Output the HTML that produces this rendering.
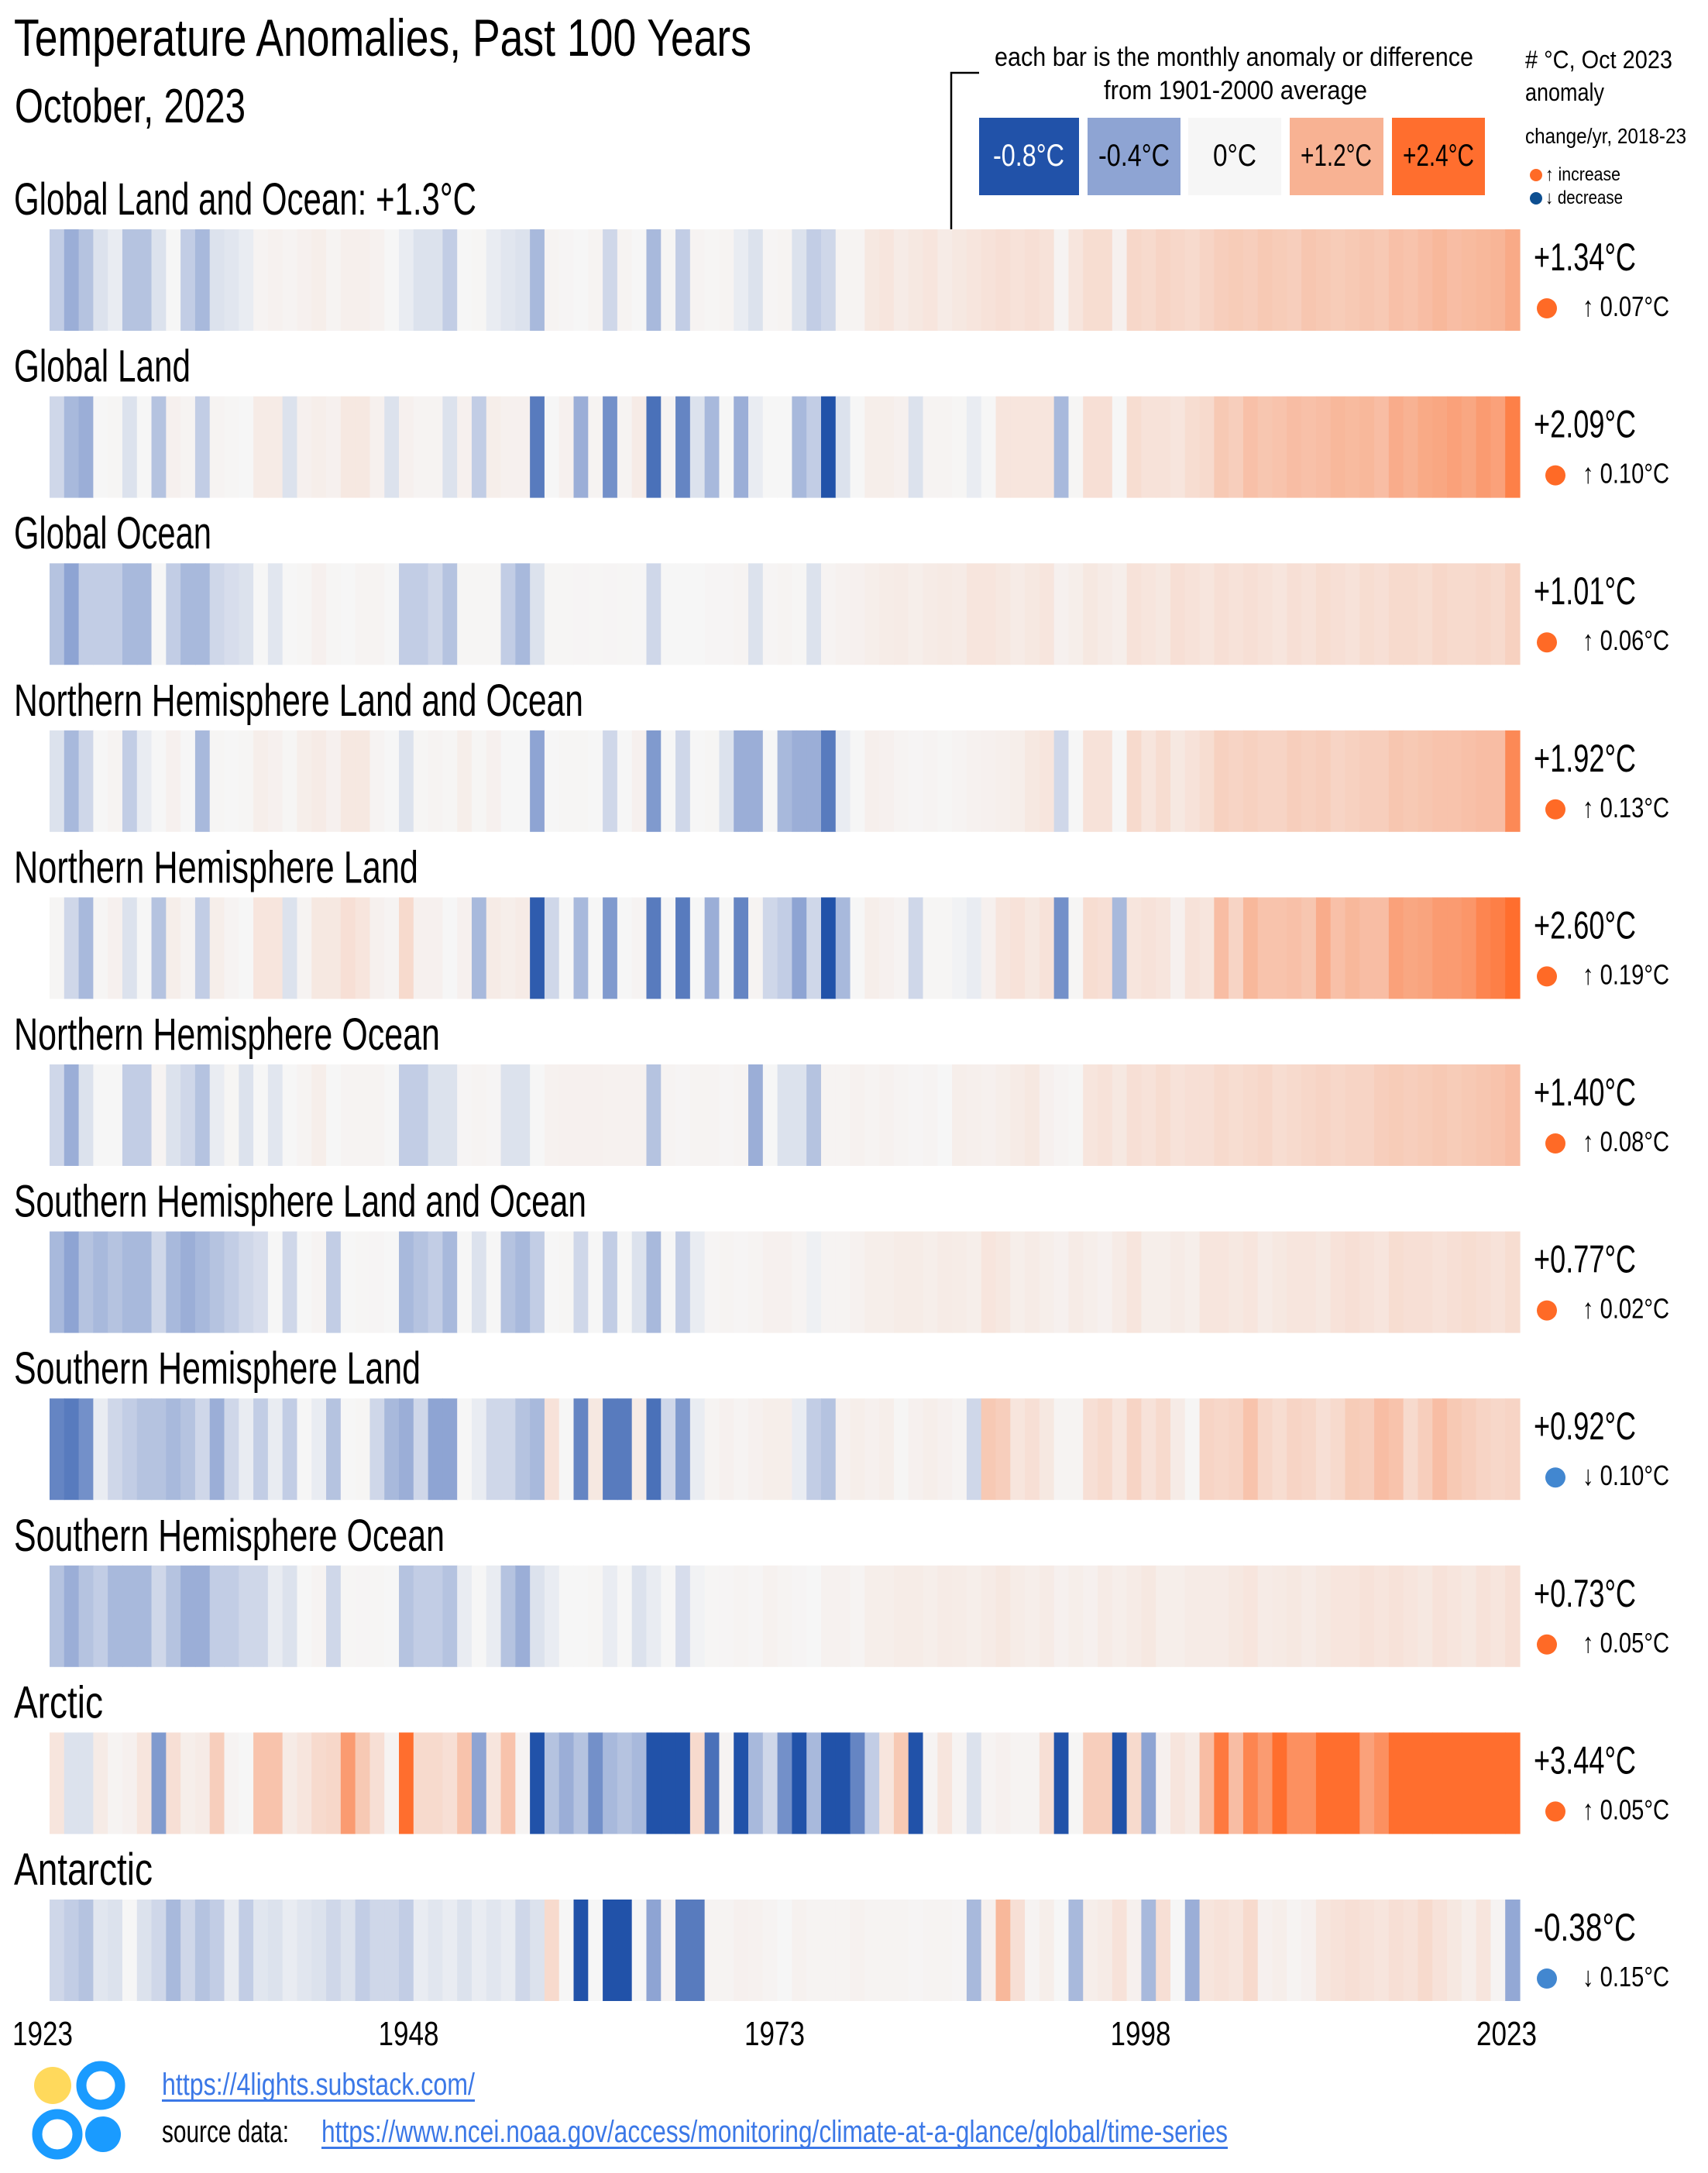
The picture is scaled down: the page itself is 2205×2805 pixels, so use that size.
<!DOCTYPE html>
<html><head><meta charset="utf-8"><title>Temperature Anomalies</title>
<style>
html,body{margin:0;padding:0;background:#fff;}
svg{display:block;}
text{font-family:"Liberation Sans Narrow","Liberation Sans",sans-serif;fill:#000;}
</style></head>
<body>
<svg id="chart" width="2205" height="2805" viewBox="0 0 2205 2805" xmlns="http://www.w3.org/2000/svg">
<text x="18" y="72" font-size="68" textLength="952" lengthAdjust="spacingAndGlyphs">Temperature Anomalies, Past 100 Years</text>
<text x="19" y="158" font-size="62" textLength="298" lengthAdjust="spacingAndGlyphs">October, 2023</text>

<g>
<text x="1284" y="85" font-size="34" textLength="618" lengthAdjust="spacingAndGlyphs">each bar is the monthly anomaly or difference</text>
<text x="1425" y="128" font-size="34" textLength="340" lengthAdjust="spacingAndGlyphs">from 1901-2000 average</text>
<path d="M1264 94 H1228 V296" fill="none" stroke="#000" stroke-width="2.5"/>
<rect x="1264" y="152" width="129" height="100" fill="#2152a9"/>
<rect x="1404" y="152" width="120" height="100" fill="#8ea4d3"/>
<rect x="1534" y="152" width="120" height="100" fill="#f6f6f6"/>
<rect x="1665" y="152" width="121" height="100" fill="#f8b293"/>
<rect x="1797" y="152" width="120" height="100" fill="#ff6e2e"/>
<text x="1328" y="214" font-size="40" text-anchor="middle" style="fill:#fff" textLength="92" lengthAdjust="spacingAndGlyphs">-0.8°C</text>
<text x="1464" y="214" font-size="40" text-anchor="middle" textLength="92" lengthAdjust="spacingAndGlyphs">-0.4°C</text>
<text x="1594" y="214" font-size="40" text-anchor="middle" textLength="56" lengthAdjust="spacingAndGlyphs">0°C</text>
<text x="1725" y="214" font-size="40" text-anchor="middle" textLength="92" lengthAdjust="spacingAndGlyphs">+1.2°C</text>
<text x="1857" y="214" font-size="40" text-anchor="middle" textLength="92" lengthAdjust="spacingAndGlyphs">+2.4°C</text>
</g>

<g>
<text x="1969" y="88" font-size="32" textLength="190" lengthAdjust="spacingAndGlyphs"># °C, Oct 2023</text>
<text x="1969" y="130" font-size="32" textLength="102" lengthAdjust="spacingAndGlyphs">anomaly</text>
<text x="1969" y="185" font-size="28" textLength="208" lengthAdjust="spacingAndGlyphs">change/yr, 2018-23</text>
<circle cx="1983" cy="226" r="8" fill="#ff6a26"/>
<text x="1995" y="233" font-size="24" textLength="97" lengthAdjust="spacingAndGlyphs">↑ increase</text>
<circle cx="1983" cy="256" r="8" fill="#0d4f91"/>
<text x="1995" y="263" font-size="24" textLength="100" lengthAdjust="spacingAndGlyphs">↓ decrease</text>
</g>

<g id="rows"></g>

<g id="xaxis"></g>

<g>
<circle cx="68" cy="2692" r="24" fill="#ffd95c"/>
<circle cx="130" cy="2692" r="25" fill="none" stroke="#1a9bff" stroke-width="13"/>
<circle cx="74" cy="2755" r="26" fill="none" stroke="#1a9bff" stroke-width="13"/>
<circle cx="133" cy="2755" r="23" fill="#1a9bff"/>
<text x="209" y="2704" font-size="40" style="fill:#3b78e7" textLength="404" lengthAdjust="spacingAndGlyphs">https://4lights.substack.com/</text>
<rect x="209" y="2710" width="404" height="3" fill="#3b78e7"/>
<text x="209" y="2765" font-size="40" textLength="164" lengthAdjust="spacingAndGlyphs">source data:</text>
<text x="415" y="2765" font-size="40" style="fill:#3b78e7" textLength="1170" lengthAdjust="spacingAndGlyphs">https://www.ncei.noaa.gov/access/monitoring/climate-at-a-glance/global/time-series</text>
<rect x="415" y="2771" width="1170" height="3" fill="#3b78e7"/>
</g>
</svg>

<script>
const firstYear = 1923;
const lastYear = 2023;
const yearTicks = [1923, 1948, 1973, 1998, 2023];
const rowTitles = ["Global Land and Ocean: +1.3°C","Global Land","Global Ocean","Northern Hemisphere Land and Ocean","Northern Hemisphere Land","Northern Hemisphere Ocean","Southern Hemisphere Land and Ocean","Southern Hemisphere Land","Southern Hemisphere Ocean","Arctic","Antarctic"];
const anomalyLabels = ["+1.34°C","+2.09°C","+1.01°C","+1.92°C","+2.60°C","+1.40°C","+0.77°C","+0.92°C","+0.73°C","+3.44°C","-0.38°C"];
const changeLabels = ["↑ 0.07°C","↑ 0.10°C","↑ 0.06°C","↑ 0.13°C","↑ 0.19°C","↑ 0.08°C","↑ 0.02°C","↓ 0.10°C","↑ 0.05°C","↑ 0.05°C","↓ 0.15°C"];
const changeDirections = [1,1,1,1,1,1,1,-1,1,1,-1];

const seriesGlobalLandOcean = [-0.2,-0.35,-0.25,-0.1,-0.05,-0.25,-0.25,-0.1,0,-0.2, -0.3,-0.1,-0.08,-0.05,0.05,0.08,0.05,0.1,0.15,0.05, 0.12,0.12,0.08,0,-0.05,-0.1,-0.1,-0.2,0,0.02, -0.05,-0.08,-0.1,-0.3,0.05,0.03,0,0.05,-0.15,0.05, 0,-0.3,0.02,-0.2,0.05,0.02,0.05,-0.05,-0.1,0.03, 0.05,-0.1,-0.2,-0.15,0.05,0.05,0.25,0.3,0.2,0.25, 0.3,0.2,0.25,0.3,0.35,0.4,0.35,0.4,0.35,0.05, 0.3,0.45,0.45,0.1,0.55,0.5,0.6,0.55,0.5,0.6, 0.7,0.75,0.7,0.8,0.75,0.7,0.85,0.8,0.75,0.8, 0.85,0.8,0.95,0.9,1.0,1.1,1.0,1.05,1.1,1.15, 1.34];
const seriesGlobalLand = [-0.15,-0.3,-0.35,0,0.02,-0.1,0,-0.25,0.1,0.05, -0.2,0.05,0.02,0,0.2,0.2,-0.1,0.1,0.15,0.1, 0.25,0.25,0.1,-0.1,0.1,0.05,0.05,-0.1,0.1,-0.2, 0.15,0.1,0.1,-0.6,0,0.1,-0.35,0.05,-0.5,0.05, 0.2,-0.65,0.05,-0.55,-0.1,-0.3,0,-0.35,-0.05,0, 0,-0.3,-0.2,-0.85,-0.1,0,0.15,0.15,0.1,-0.1, 0.05,0.05,0.02,-0.05,0,0.3,0.3,0.3,0.3,-0.3, 0.02,0.4,0.4,0,0.45,0.35,0.35,0.3,0.45,0.5, 0.8,0.7,0.95,0.85,0.9,1.0,0.95,1.0,1.1,1.05, 1.1,1.0,1.3,1.2,1.35,1.4,1.5,1.4,1.6,1.5, 2.09];
const seriesGlobalOcean = [-0.25,-0.4,-0.2,-0.2,-0.2,-0.3,-0.3,0,-0.2,-0.3, -0.3,-0.15,-0.12,-0.1,0,-0.08,0,0.02,0.1,0.02, 0,0.05,0.05,0,-0.2,-0.2,-0.15,-0.25,0.02,0.02, 0.02,-0.2,-0.3,-0.1,0.02,0.02,0.03,0.02,0.03,0.02, 0.01,-0.15,0,0,0,0.03,0.03,0.05,-0.1,0.03, 0.05,0.02,-0.1,0.05,0.08,0.1,0.15,0.18,0.2,0.15, 0.2,0.22,0.2,0.3,0.3,0.25,0.2,0.25,0.3,0.1, 0.15,0.25,0.2,0.15,0.35,0.3,0.25,0.4,0.35,0.3, 0.4,0.35,0.4,0.35,0.3,0.4,0.35,0.45,0.4,0.35, 0.45,0.4,0.5,0.5,0.45,0.55,0.5,0.5,0.55,0.5, 0.65];
const seriesNHLandOcean = [-0.1,-0.3,-0.15,0,0.05,-0.2,-0.05,0,0.1,0, -0.3,0.02,0,0.02,0.15,0.1,0.02,0.15,0.2,0.1, 0.25,0.25,0.05,0,-0.1,0.02,0.05,0.02,0.15,0.02, 0.1,0,0,-0.4,0,0.02,0.02,0,-0.15,0, 0.1,-0.45,0,-0.15,0,0.02,-0.1,-0.35,-0.35,0, -0.3,-0.35,-0.35,-0.6,-0.05,0,0.12,0.1,0.05,0.03, 0.05,0.02,0.05,0.08,0.1,0.12,0.15,0.25,0.3,-0.15, 0,0.35,0.35,0,0.5,0.3,0.45,0.25,0.35,0.45, 0.65,0.6,0.65,0.6,0.6,0.7,0.65,0.7,0.6,0.65, 0.7,0.7,0.85,0.8,0.85,0.9,0.9,0.95,1.0,1.0, 1.92];
const seriesNHLand = [0.02,-0.15,-0.3,0.02,0.1,-0.1,0,-0.25,0.15,0.05, -0.2,0.15,0.05,0,0.3,0.3,-0.1,0.05,0.25,0.25, 0.4,0.3,0.1,0.05,0.5,0.1,0.1,0,0.1,-0.3, 0.2,0.15,0.2,-0.75,-0.15,0,-0.3,0,-0.45,0, 0.05,-0.6,0,-0.6,0,-0.35,0,-0.55,0.05,-0.15, -0.2,-0.4,-0.15,-0.85,-0.3,0,0.15,0.1,0.05,-0.15, 0.02,0.02,-0.02,-0.05,0.1,0.3,0.35,0.25,0.35,-0.5, 0.02,0.45,0.4,-0.3,0.3,0.35,0.3,0.1,0.35,0.3, 1.0,0.6,1.1,0.9,0.9,0.95,0.85,1.3,0.95,1.1, 1.0,1.0,1.5,1.4,1.45,1.6,1.6,1.7,2.0,2.1, 2.6];
const seriesNHOcean = [-0.15,-0.35,-0.1,0,0,-0.2,-0.2,0.05,-0.1,-0.15, -0.25,-0.05,0.02,-0.1,0,-0.08,0,0.05,0.15,0, 0.05,0.05,0.05,0,-0.2,-0.2,-0.1,-0.1,0.03,0.05, 0.03,-0.1,-0.1,0,0.08,0.1,0.1,0.1,0.08,0.08, 0.08,-0.25,0.05,0.03,0.05,0.05,0.03,0.05,-0.35,0, -0.1,-0.1,-0.25,0.05,0.05,0.08,0.05,0.08,0.05,0.03, 0.05,0,0.15,0.12,0.1,0.15,0.2,0.25,0.1,0.05, 0.02,0.3,0.35,0.25,0.4,0.35,0.45,0.35,0.4,0.4, 0.5,0.45,0.5,0.55,0.45,0.5,0.55,0.6,0.55,0.6, 0.6,0.7,0.75,0.7,0.75,0.8,0.75,0.8,0.85,0.9, 1.0];
const seriesSHLandOcean = [-0.3,-0.4,-0.25,-0.3,-0.25,-0.3,-0.3,-0.15,-0.3,-0.35, -0.3,-0.25,-0.2,-0.15,-0.12,0,-0.15,0,0.05,-0.2, 0,0.02,0.03,0,-0.3,-0.25,-0.2,-0.3,0,-0.1, 0,-0.25,-0.3,-0.2,0,0.02,-0.15,0,-0.2,0, -0.1,-0.3,0,-0.2,-0.05,0.03,0.05,0.03,0.05,0.1, 0.1,0.05,-0.03,0.05,0.05,0.08,0.15,0.15,0.18,0.18, 0.15,0.2,0.18,0.15,0.3,0.25,0.15,0.2,0.15,0.1, 0.2,0.15,0.1,0.2,0.3,0.15,0.15,0.2,0.15,0.3, 0.3,0.25,0.3,0.2,0.25,0.3,0.3,0.25,0.35,0.4, 0.35,0.3,0.45,0.4,0.4,0.35,0.4,0.45,0.4,0.35, 0.45];
const seriesSHLand = [-0.55,-0.6,-0.5,-0.05,-0.15,-0.2,-0.25,-0.25,-0.3,-0.25, -0.15,-0.35,-0.15,-0.05,-0.2,-0.05,-0.2,0,-0.05,-0.25, 0,0.02,-0.15,-0.3,-0.35,-0.15,-0.4,-0.4,0,-0.05, -0.15,-0.15,-0.25,-0.3,0.35,0,-0.55,0.25,-0.6,-0.6, 0.2,-0.65,-0.15,-0.45,-0.05,0.05,0.1,0.05,0.1,0.15, 0.15,-0.05,-0.2,-0.25,0.1,0.15,0.1,0.15,0.02,0.1, 0.15,0.1,0.05,-0.15,0.8,0.7,0.3,0.4,0.25,0.05, 0.05,0.4,0.5,0.3,0.6,0.35,0.5,0.2,0.02,0.6, 0.55,0.6,0.9,0.55,0.45,0.6,0.55,0.4,0.5,0.75, 0.7,1.0,0.9,0.5,0.7,1.0,0.8,0.7,0.6,0.55, 0.6];
const seriesSHOcean = [-0.25,-0.35,-0.25,-0.2,-0.3,-0.3,-0.3,-0.15,-0.25,-0.35, -0.35,-0.2,-0.2,-0.15,-0.15,-0.05,-0.1,0,0.05,-0.15, 0.02,0.03,0.02,0,-0.25,-0.2,-0.2,-0.25,-0.05,0, -0.05,-0.25,-0.35,-0.1,-0.05,0,0,0.02,-0.05,0, -0.1,-0.05,0,-0.12,-0.02,0.02,0.03,0.05,0.03,0.08, 0.05,0.03,0,0.08,0.08,0.05,0.15,0.15,0.18,0.18, 0.15,0.2,0.18,0.15,0.2,0.25,0.18,0.15,0.2,0.1, 0.15,0.1,0.2,0.15,0.2,0.25,0.15,0.15,0.2,0.2, 0.2,0.25,0.3,0.2,0.22,0.25,0.2,0.25,0.3,0.3, 0.35,0.3,0.35,0.3,0.25,0.35,0.3,0.25,0.35,0.3, 0.4];
const seriesArctic = [0.3,-0.1,-0.1,0.2,0.05,0.1,0.3,-0.45,0.4,0.15, 0.2,0.7,0.05,0,0.9,0.9,0.2,0.3,0.5,0.55, 1.6,0.8,0.4,0.05,2.4,0.5,0.5,0.4,0.9,-0.4, 0.3,0.9,0.05,-0.85,-0.25,-0.35,-0.25,-0.5,-0.3,-0.25, -0.3,-0.85,-0.9,-0.85,0.5,-0.65,0.05,-0.85,-0.3,-0.15, -0.5,-0.8,-0.3,-0.9,-0.9,-0.55,-0.2,0.3,0.8,-0.85, 0.05,0.3,0.05,-0.1,0.05,0.1,0.05,0.05,0.4,-0.9, 0.02,0.7,0.7,-0.85,0.5,-0.4,0.1,0.3,0.2,1.0, 2.2,1.0,2.0,1.6,2.5,1.8,1.8,2.6,2.6,2.4, 1.5,1.8,3.0,3.2,2.9,3.1,3.0,3.3,3.2,3.0, 3.44];
const seriesAntarctic = [-0.15,-0.2,-0.25,-0.08,-0.1,0,-0.1,-0.15,-0.3,-0.15, -0.25,-0.2,-0.05,-0.2,-0.08,-0.1,-0.05,-0.08,-0.1,-0.15, -0.1,-0.2,-0.15,-0.15,-0.2,-0.05,-0.08,-0.05,-0.1,-0.05, -0.08,-0.05,-0.15,-0.1,0.5,0,-0.9,0,-0.8,-0.9, 0,-0.4,0.05,-0.6,-0.6,0.05,0.05,0.1,0.08,0.05, 0,0.08,0.05,0.05,0.05,0.08,0.05,0.05,0.05,0.03, 0.05,0.05,0.03,-0.3,0.1,1.1,0.4,0.05,0.15,0, -0.3,0.15,0.2,0.35,0.1,-0.3,0.4,0,-0.35,0.3, 0.35,0.3,0.5,0.1,0.15,0.05,0.1,0.3,0.35,0.4, 0.35,0.3,0.4,0.35,0.5,0.35,0.25,0.15,0.3,0.05, -0.38];

const allSeries = [seriesGlobalLandOcean,seriesGlobalLand,seriesGlobalOcean,seriesNHLandOcean,seriesNHLand,seriesNHOcean,seriesSHLandOcean,seriesSHLand,seriesSHOcean,seriesArctic,seriesAntarctic];
const rowNames = ["global-land-ocean","global-land","global-ocean","nh-land-ocean","nh-land","nh-ocean","sh-land-ocean","sh-land","sh-ocean","arctic","antarctic"];

const NS = "http://www.w3.org/2000/svg";
const plotLeft = 64, plotRight = 1962, rowTop0 = 296, rowStep = 215.6, rowHeight = 131;
function xScale(year){ return plotLeft + (year - firstYear) * (plotRight - plotLeft) / (lastYear - firstYear + 1); }
const barW = (plotRight - plotLeft) / (lastYear - firstYear + 1);
function tickScale(year){ return 55 + (year - firstYear) * (1945 - 55) / (lastYear - firstYear); }
const stops = [[-0.8,[33,82,169]],[-0.4,[142,164,211]],[0,[246,246,246]],[1.2,[248,178,147]],[2.4,[255,110,46]]];
function colorScale(v){
  if (v <= stops[0][0]) return "rgb(" + stops[0][1].join(",") + ")";
  if (v >= stops[stops.length-1][0]) return "rgb(" + stops[stops.length-1][1].join(",") + ")";
  for (let i=0;i<stops.length-1;i++){
    const a=stops[i], b=stops[i+1];
    if (v>=a[0] && v<=b[0]){
      const t=(v-a[0])/(b[0]-a[0]);
      const c=a[1].map((x,k)=>Math.round(x+(b[1][k]-x)*t));
      return "rgb("+c.join(",")+")";
    }
  }
}
function mk(tag, attrs){ const e=document.createElementNS(NS,tag); for (const k in attrs) e.setAttribute(k, attrs[k]); return e; }

const rowsG = document.getElementById("rows");
const titleWidths = [597,228,255,735,522,550,739,525,556,115,179];
allSeries.forEach((series, r) => {
  const top = rowTop0 + r * rowStep;
  const g = mk("g", {});
  
  
  const title = mk("text", {x: 18, y: top - 19, "font-size": 58, textLength: titleWidths[r], lengthAdjust: "spacingAndGlyphs"});
  
  
  title.textContent = rowTitles[r];
  g.appendChild(title);
  series.forEach((v, i) => {
    const year = firstYear + i;
    const rect = mk("rect", {x: xScale(year).toFixed(2), y: top, width: (barW + 0.6).toFixed(2), height: rowHeight, fill: colorScale(v)});
    
    
    g.appendChild(rect);
  });
  const val = mk("text", {x: 1980, y: top + 53, "font-size": 50, textLength: 132, lengthAdjust: "spacingAndGlyphs"});
  
  
  val.textContent = anomalyLabels[r];
  g.appendChild(val);
  const dot = mk("circle", {cx: r % 2 === 0 ? 1997 : 2008, cy: top + 102, r: 13, fill: changeDirections[r] > 0 ? "#ff6a26" : "#4287d0"});
  
  
  g.appendChild(dot);
  const ch = mk("text", {x: 2043, y: top + 112, "font-size": 36, textLength: 112, lengthAdjust: "spacingAndGlyphs"});
  
  
  ch.textContent = changeLabels[r];
  g.appendChild(ch);
  rowsG.appendChild(g);
});

const axisG = document.getElementById("xaxis");
yearTicks.forEach((yr) => {
  const t = mk("text", {x: tickScale(yr).toFixed(1), y: 2640, "font-size": 44, "text-anchor": "middle", textLength: 78, lengthAdjust: "spacingAndGlyphs"});
  
  
  t.textContent = String(yr);
  axisG.appendChild(t);
});
</script>
</body></html>
